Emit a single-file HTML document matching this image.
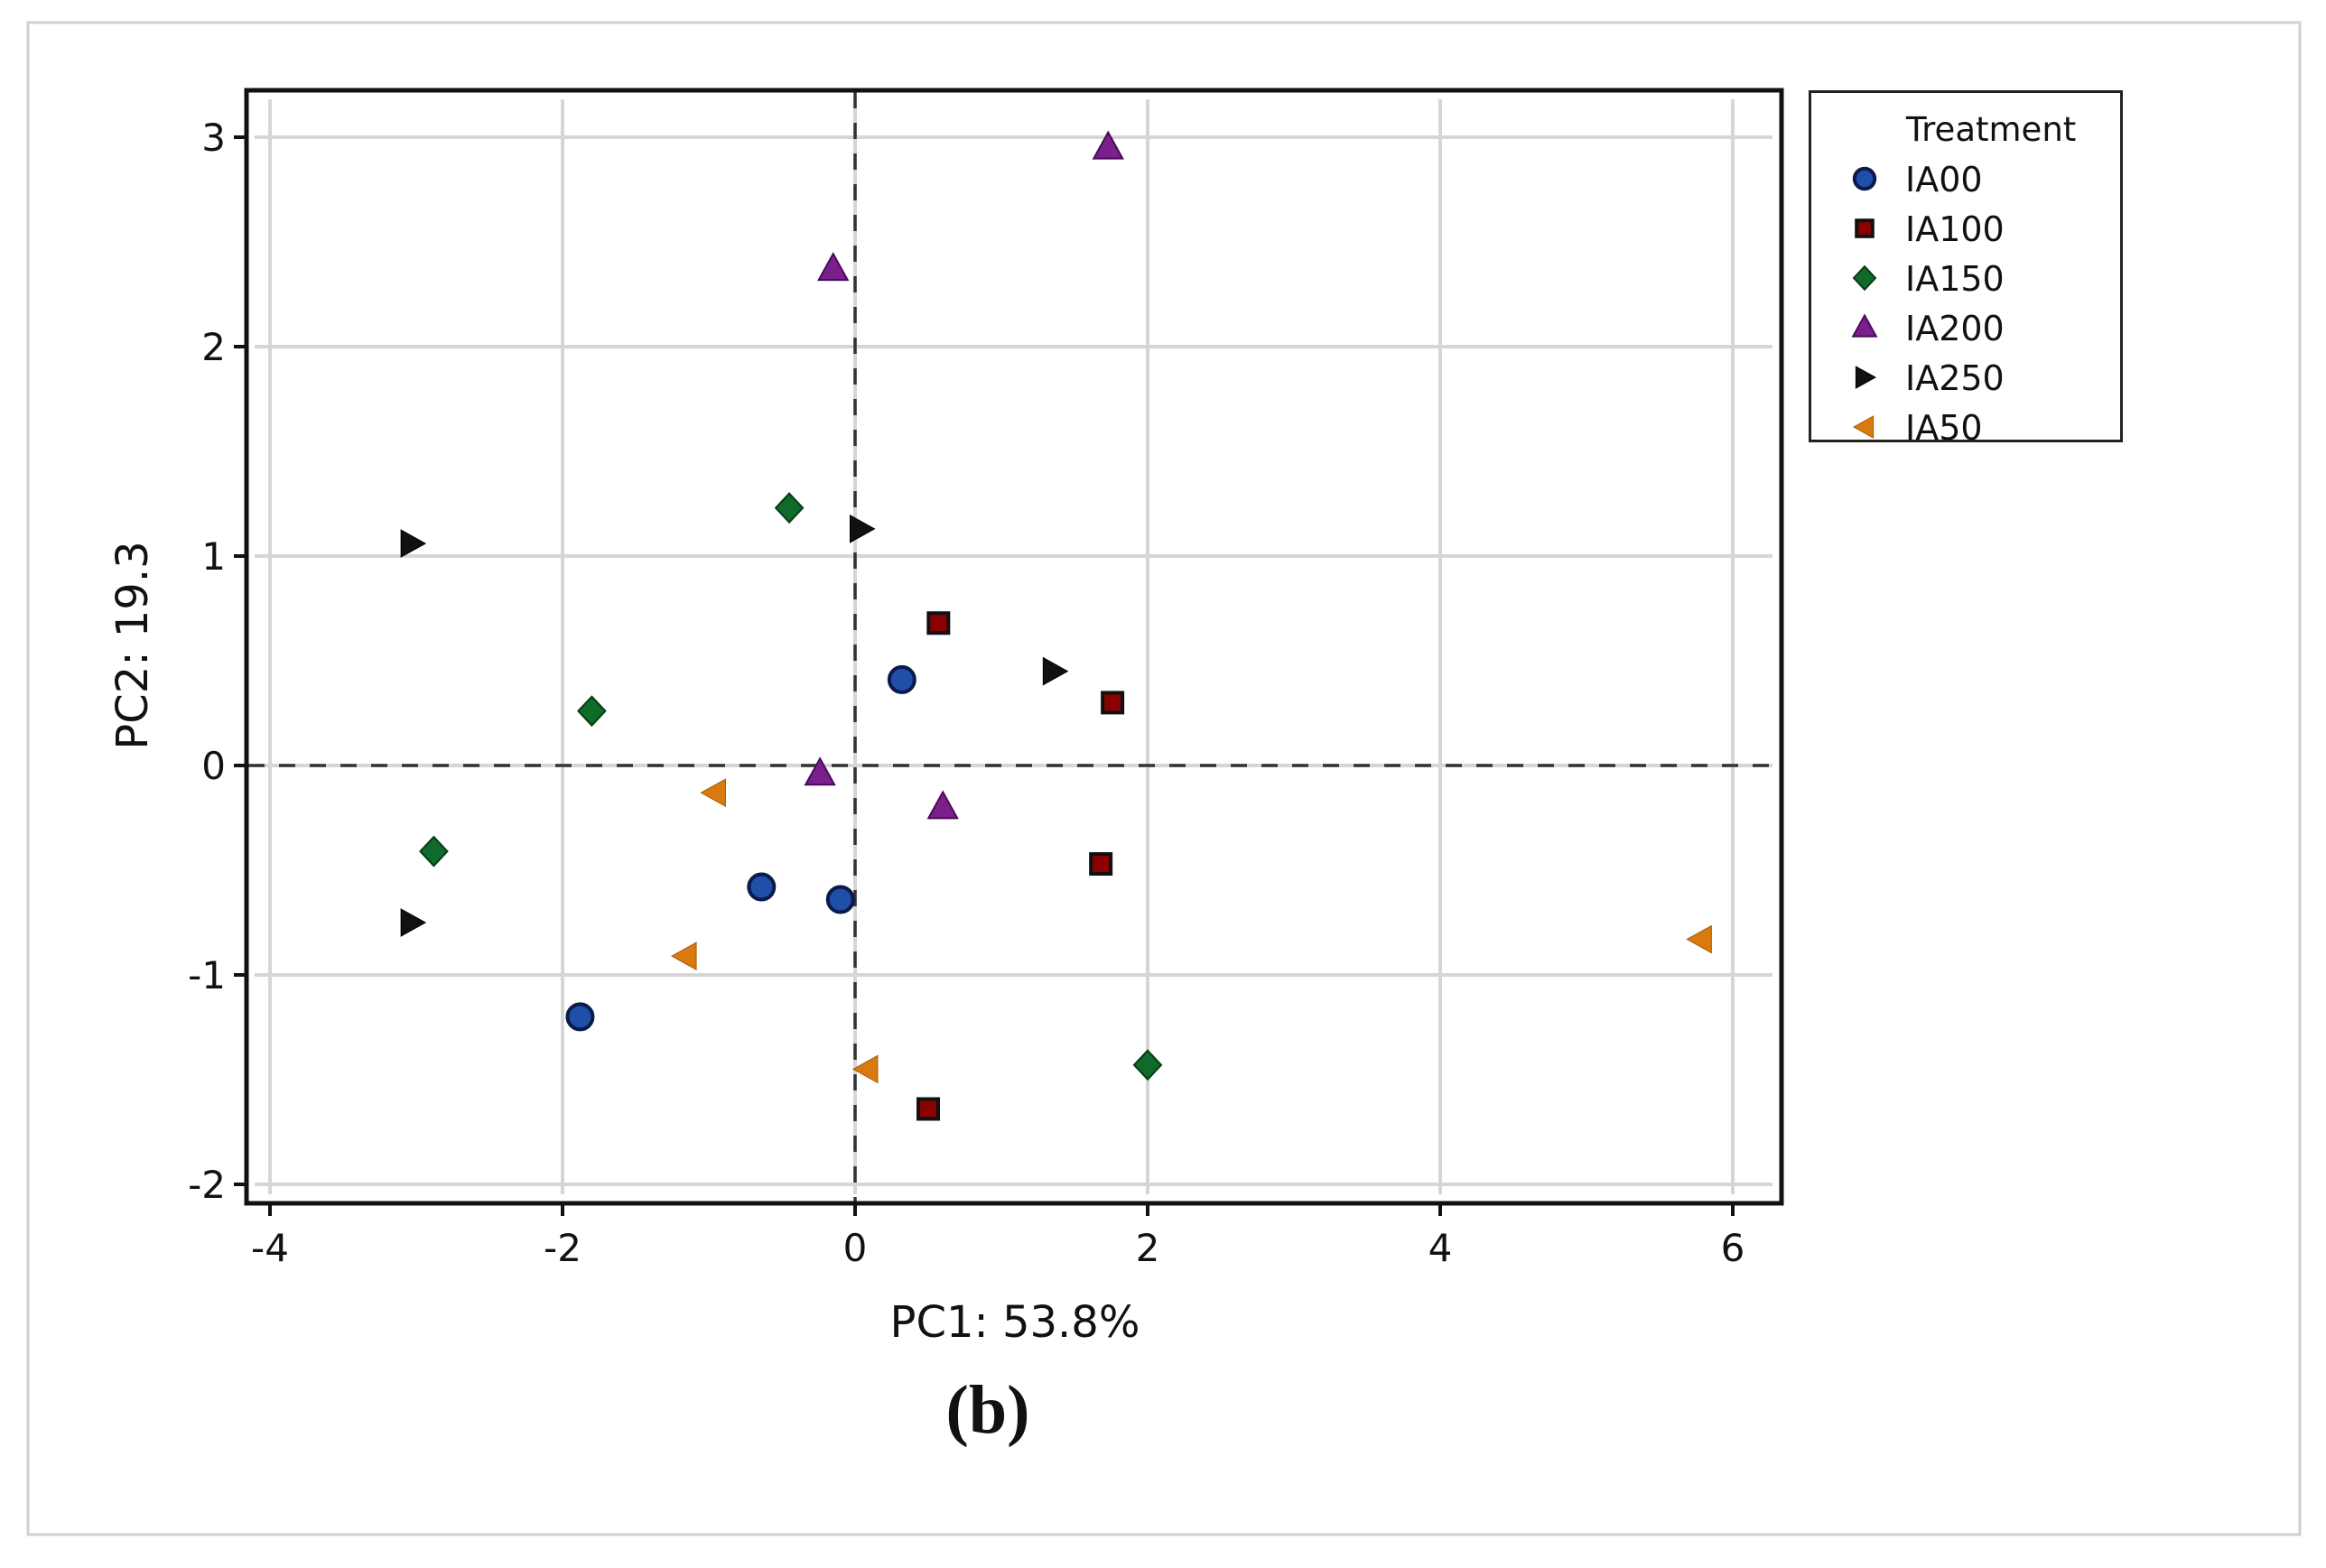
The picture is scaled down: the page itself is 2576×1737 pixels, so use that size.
<!DOCTYPE html>
<html><head><meta charset="utf-8"><style>
html,body{margin:0;padding:0;background:#fff;}
svg{display:block;}
text{font-family:"DejaVu Sans","Liberation Sans",sans-serif;fill:#111;}
</style></head><body>
<svg id="chart" width="2576" height="1737" viewBox="0 0 2576 1737" xmlns="http://www.w3.org/2000/svg">
<rect x="31" y="25" width="2516" height="1675" fill="#fff" stroke="#d0d0d0" stroke-width="3"/>
<g id="grid"></g>
<g id="ref"></g>
<rect x="273" y="100" width="1700" height="1233" fill="none" stroke="#111" stroke-width="5"/>
<g id="ticks"></g>
<g id="pts"></g>
<text x="1124" y="1481" font-size="48" text-anchor="middle">PC1: 53.8%</text>
<text transform="translate(163,715) rotate(-90)" font-size="48" text-anchor="middle">PC2: 19.3</text>
<text x="1094" y="1587" font-size="76" font-weight="bold" text-anchor="middle" style="font-family:'Liberation Serif',serif">(b)</text>
<g>
<svg x="2003" y="100" width="348" height="390" overflow="hidden">
<rect x="1.5" y="1.5" width="345" height="387" fill="#fff" stroke="#222" stroke-width="3"/>
<text x="108" y="56" font-size="37">Treatment</text>
<g id="leg"></g>
</svg>
</g>
</svg>
<script>
const xTicks=[-4,-2,0,2,4,6];
const yTicks=[-2,-1,0,1,2,3];
const groups=["IA00","IA100","IA150","IA200","IA250","IA50"];
const ia00X=[0.32,-0.64,-0.10,-1.88], ia00Y=[0.41,-0.58,-0.64,-1.20];
const ia100X=[0.57,1.76,1.68,0.50], ia100Y=[0.68,0.30,-0.47,-1.64];
const ia150X=[-0.45,-1.80,-2.88,2.00], ia150Y=[1.23,0.26,-0.41,-1.43];
const ia200X=[1.73,-0.15,-0.24,0.60], ia200Y=[2.95,2.37,-0.04,-0.20];
const ia250X=[-3.03,0.04,1.36,-3.03], ia250Y=[1.06,1.13,0.45,-0.75];
const ia50X=[-0.96,-1.16,0.08,5.78], ia50Y=[-0.13,-0.91,-1.45,-0.83];
const NS="http://www.w3.org/2000/svg";
function sx(v){return 947+v*162;}
function sy(v){return 848-v*232;}
function mk(tag,attrs,parent){const e=document.createElementNS(NS,tag);for(const k in attrs)e.setAttribute(k,attrs[k]);parent.appendChild(e);return e;}
const grid=document.getElementById('grid'),ticks=document.getElementById('ticks');
xTicks.forEach(t=>{
 let l=mk('line',{x1:sx(t),x2:sx(t),y1:110,y2:1323,stroke:'#d6d6d6','stroke-width':4},grid);
 
 
 mk('line',{x1:sx(t),x2:sx(t),y1:1333,y2:1347,stroke:'#111','stroke-width':4},ticks);
 let tx=mk('text',{x:sx(t),y:1397,'font-size':42,'text-anchor':'middle'},ticks);tx.textContent=t;
 
 
});
yTicks.forEach(t=>{
 let l=mk('line',{x1:282,x2:1963,y1:sy(t),y2:sy(t),stroke:'#d6d6d6','stroke-width':4},grid);
 
 
 mk('line',{x1:259,x2:273,y1:sy(t),y2:sy(t),stroke:'#111','stroke-width':4},ticks);
 let tx=mk('text',{x:250,y:sy(t)+15,'font-size':42,'text-anchor':'end'},ticks);tx.textContent=t;
 
 
});
const ref=document.getElementById('ref');
let hz=mk('line',{x1:275,x2:1971,y1:sy(0),y2:sy(0),stroke:'#333','stroke-width':3.5,'stroke-dasharray':'18 16'},ref);


let vt=mk('line',{x1:sx(0),x2:sx(0),y1:102,y2:1331,stroke:'#333','stroke-width':3.5,'stroke-dasharray':'18 16'},ref);


function marker(kind,x,y,parent,s){
 s=s||1;let e;
 if(kind==0) e=mk('circle',{cx:x,cy:y,r:14*s,fill:'#1f4fa8',stroke:'#0a1a4a','stroke-width':4},parent);
 else if(kind==1) e=mk('rect',{x:x-11*s,y:y-11*s,width:22*s,height:22*s,fill:'#8b0000',stroke:'#111','stroke-width':4},parent);
 else if(kind==2) e=mk('polygon',{points:`${x},${y-16*s} ${x+15*s},${y} ${x},${y+16*s} ${x-15*s},${y}`,fill:'#0f6b2a',stroke:'#063a14','stroke-width':2},parent);
 else if(kind==3) e=mk('polygon',{points:`${x},${y-17*s} ${x+16*s},${y+12*s} ${x-16*s},${y+12*s}`,fill:'#7a1f8c',stroke:'#4a0a5a','stroke-width':2},parent);
 else if(kind==4) e=mk('polygon',{points:`${x-12*s},${y-15*s} ${x+15*s},${y} ${x-12*s},${y+15*s}`,fill:'#111',stroke:'#000','stroke-width':1},parent);
 else e=mk('polygon',{points:`${x+12*s},${y-15*s} ${x-15*s},${y} ${x+12*s},${y+15*s}`,fill:'#d97a10',stroke:'#a55a00','stroke-width':1},parent);
 return e;
}
const seriesX=[ia00X,ia100X,ia150X,ia200X,ia250X,ia50X];
const seriesY=[ia00Y,ia100Y,ia150Y,ia200Y,ia250Y,ia50Y];
const pts=document.getElementById('pts');
seriesX.forEach((xs,g)=>{xs.forEach((v,i)=>{
 const e=marker(g,sx(v),sy(seriesY[g][i]),pts);
 
 
});});
const leg=document.getElementById('leg');
groups.forEach((n,i)=>{
 const y=98+i*55;
 const m=marker(i,62,y,leg,0.8);
 
 
 const t=mk('text',{x:107,y:y+14,'font-size':38},leg);t.textContent=n;
 
 
});
</script>
</body></html>
